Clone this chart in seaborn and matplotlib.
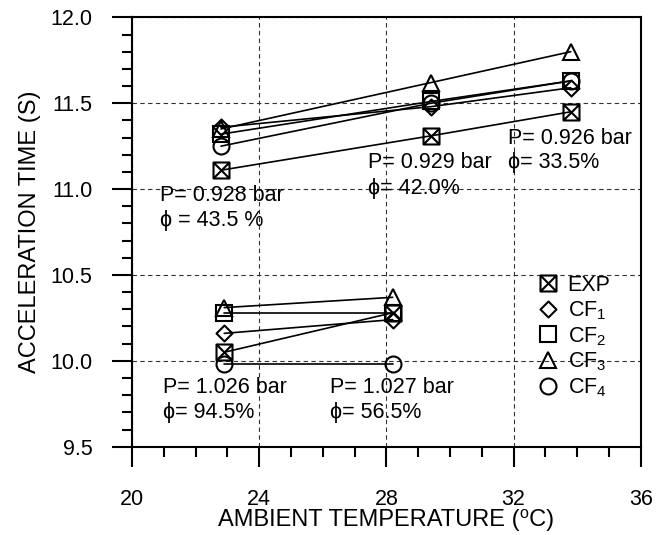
"""
Tiempo de aceleracion vs temperatura ambiente

Compara los datos experimentales (EXP) con cuatro factores de
correccion (CF1..CF4) para dos grupos de presion atmosferica.
"""

import matplotlib
matplotlib.use("Agg")
import pandas as pd
import matplotlib.pyplot as plt
import seaborn as sns
from matplotlib.path import Path
from matplotlib.lines import Line2D
from matplotlib.ticker import MultipleLocator

# 1. Datos
series = ["EXP", "CF1", "CF2", "CF3", "CF4"]
etiquetas = ["EXP", "CF$_1$", "CF$_2$", "CF$_3$", "CF$_4$"]

# Grupo de baja presion (~0.93 bar)
temp_baja = [22.8, 29.4, 33.8]
exp_baja = [11.11, 11.31, 11.45]
cf1_baja = [11.36, 11.48, 11.59]
cf2_baja = [11.32, 11.51, 11.63]
cf3_baja = [11.35, 11.62, 11.80]
cf4_baja = [11.25, 11.50, 11.63]

# Grupo de alta presion (~1.03 bar)
temp_alta = [22.9, 28.2]
exp_alta = [10.05, 10.28]
cf1_alta = [10.16, 10.24]
cf2_alta = [10.28, 10.28]
cf3_alta = [10.31, 10.37]
cf4_alta = [9.98, 9.98]

# Anotaciones: (x, y, texto)
notas = [
    (20.88, 10.96, "P= 0.928 bar"), (20.88, 10.815, "\u03d5 = 43.5 %"),
    (27.42, 11.152, "P= 0.929 bar"), (27.42, 11.006, "\u03d5= 42.0%"),
    (31.82, 11.297, "P= 0.926 bar"), (31.82, 11.152, "\u03d5= 33.5%"),
    (20.97, 9.842, "P= 1.026 bar"), (20.97, 9.697, "\u03d5= 94.5%"),
    (26.23, 9.842, "P= 1.027 bar"), (26.23, 9.697, "\u03d5= 56.5%"),
]

valores_baja = [exp_baja, cf1_baja, cf2_baja, cf3_baja, cf4_baja]
valores_alta = [exp_alta, cf1_alta, cf2_alta, cf3_alta, cf4_alta]

filas = []
for nombre, vb, va in zip(series, valores_baja, valores_alta):
    for t, v in zip(temp_baja, vb):
        filas.append({"temp": t, "tiempo": v, "serie": nombre, "grupo": "baja"})
    for t, v in zip(temp_alta, va):
        filas.append({"temp": t, "tiempo": v, "serie": nombre, "grupo": "alta"})
df = pd.DataFrame(filas)

# 2. Marcadores
caja_x = Path(
    [(-0.5, -0.5), (0.5, -0.5), (0.5, 0.5), (-0.5, 0.5), (-0.5, -0.5),
     (-0.5, -0.5), (0.5, 0.5), (-0.5, 0.5), (0.5, -0.5)],
    [Path.MOVETO, Path.LINETO, Path.LINETO, Path.LINETO, Path.CLOSEPOLY,
     Path.MOVETO, Path.LINETO, Path.MOVETO, Path.LINETO],
)
rombo = Path(
    [(0, 0.5), (0.5, 0), (0, -0.5), (-0.5, 0), (0, 0.5)],
    [Path.MOVETO, Path.LINETO, Path.LINETO, Path.LINETO, Path.CLOSEPOLY],
)
marcadores = {"EXP": caja_x, "CF1": rombo, "CF2": "s", "CF3": "^", "CF4": "o"}

# 3. Estilo
sns.set_theme(style="ticks", rc={
    "axes.edgecolor": "black", "text.color": "black",
    "axes.labelcolor": "black", "xtick.color": "black", "ytick.color": "black",
})
plt.rcParams["font.family"] = ["Liberation Sans", "DejaVu Sans"]
plt.rcParams["mathtext.default"] = "regular"

fig = plt.figure(figsize=(6.64, 5.35), dpi=100)
ax = fig.add_axes([0.1988, 0.165, 0.7661, 0.8026])

sns.lineplot(
    data=df, x="temp", y="tiempo", hue="serie", style="serie", units="grupo",
    estimator=None, sort=False, markers=marcadores, dashes=False,
    palette={s: "black" for s in series}, legend=False, ax=ax,
    linewidth=1.2, markersize=11.5, markerfacecolor="none",
    markeredgecolor="black", markeredgewidth=1.5,
)

for x, y, texto in notas:
    ax.text(x, y, texto, ha="left", va="center", fontsize=15.5)

# Ejes
ax.set_xlim(20, 36)
ax.set_ylim(9.5, 12.0)
ax.set_xticks([20, 24, 28, 32, 36])
ax.xaxis.set_minor_locator(MultipleLocator(1))
ax.yaxis.set_major_locator(MultipleLocator(0.5))
ax.yaxis.set_minor_locator(MultipleLocator(0.1))
ax.yaxis.set_major_formatter(matplotlib.ticker.FormatStrFormatter("%.1f"))
ax.tick_params(which="major", direction="out", length=14.4, width=1.5, labelsize=15.5)
ax.tick_params(which="minor", direction="out", length=7.2, width=1.5)
ax.tick_params(axis="x", which="major", pad=16)
ax.tick_params(axis="y", which="major", pad=14)
for lado in ax.spines.values():
    lado.set_linewidth(1.5)

ax.grid(True, which="major", linestyle=(0, (4, 3)), linewidth=0.8, color="0.2")

ax.set_xlabel("AMBIENT TEMPERATURE (\u2070C)", fontsize=17, labelpad=-1)
ax.set_ylabel("ACCELERATION TIME (S)", fontsize=17, labelpad=7)

# Leyenda
manejadores = [
    Line2D([], [], linestyle="none", marker=marcadores[s], markersize=11.5,
           markerfacecolor="none", markeredgecolor="black", markeredgewidth=1.5)
    for s in series
]
ax.legend(manejadores, etiquetas, loc="upper left", bbox_to_anchor=(0.797, 0.40),
          frameon=False, fontsize=15.5, handlelength=1.0, handletextpad=0.4,
          labelspacing=0.15, borderpad=0, borderaxespad=0)

fig.savefig("out.png", dpi=100)
